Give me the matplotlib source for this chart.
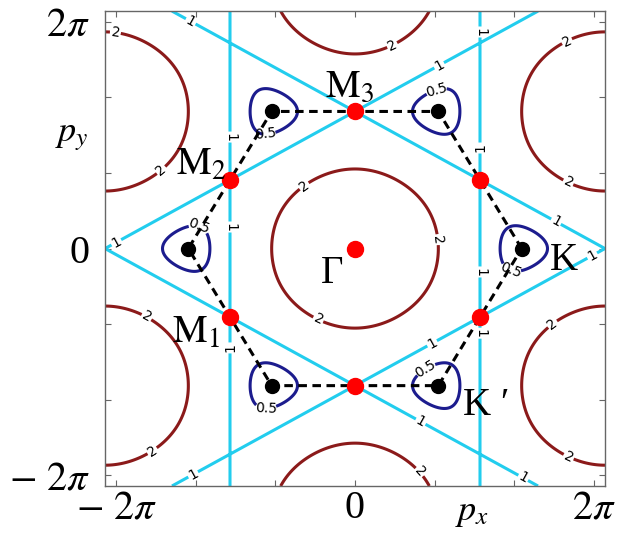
import numpy as np
import matplotlib
matplotlib.use("Agg")
import matplotlib.pyplot as plt

plt.rcParams["font.family"] = ["Liberation Serif", "DejaVu Serif"]
plt.rcParams["mathtext.fontset"] = "stix"

# contour levels of |f(p)| and their colours
levels = [0.5, 1.0, 2.0]
level_colors = ["#1c1c8e", "#22cdee", "#8b1a1a"]

# high-symmetry points, in units of pi
k_x = [4/3, 2/3, -2/3, -4/3, -2/3, 2/3]
k_y = [0.0, 1.1547, 1.1547, 0.0, -1.1547, -1.1547]
m_x = [1.0, 0.0, -1.0, -1.0, 0.0, 1.0]
m_y = [0.5774, 1.1547, 0.5774, -0.5774, -1.1547, -0.5774]
g_x = [0.0]
g_y = [0.0]

tick_vals = [-6, -4, -2, 0, 2, 4, 6]
tick_text = [r"$-\ 2\pi$", "", "", "0", "", "", r"$2\pi$"]

# where the contour labels sit (data coords, nearest contour is used)
label_spots = [
    # level 2
    (-6.03, 5.65), (-4.83, 2.02), (5.35, 5.44), (5.35, 1.73),
    (-5.08, -5.38), (-5.28, -1.89), (5.33, -5.60), (4.85, -1.84),
    (-1.26, 1.63), (1.94, 0.22), (-0.93, -1.89), (0.63, 6.05), (1.73, -5.81),
    # level 1
    (-3.17, 2.95), (-3.17, 0.57), (-3.14, -2.63), (3.14, 5.73), (3.14, 2.66),
    (3.09, -0.62), (3.09, -2.24), (2.14, 4.80), (-4.15, 5.97), (5.03, 0.67),
    (5.98, -0.22), (1.96, -2.55), (1.63, -4.62), (4.20, -6.12), (-4.02, -6.07),
    (-5.96, 0.09),
    # level 0.5
    (-2.26, 2.95), (2.06, 4.14), (3.90, -0.62), (-3.97, 0.41),
    (-2.24, -4.19), (1.76, -3.16),
]

# point labels: text, x, y (data), ha
point_labels = [
    (r"$\mathrm{M}_3$", -0.13, 4.01, "center"),
    (r"$\mathrm{M}_2$", -3.25, 1.94, "right"),
    (r"$\mathrm{M}_1$", -3.39, -2.50, "right"),
    ("Γ", -0.30, -0.91, "right"),
    ("K", 4.90, -0.57, "left"),
    ("K ′", 2.71, -4.40, "left"),
]

# graphene-like structure factor |1 + e^{ip.a1} + e^{ip.a2}|
a1 = np.array([0.5, np.sqrt(3) / 2])
a2 = np.array([-0.5, np.sqrt(3) / 2])
p = np.linspace(-2 * np.pi, 2 * np.pi, 700)
PX, PY = np.meshgrid(p, p)
F = np.abs(1 + np.exp(1j * (PX * a1[0] + PY * a1[1])) + np.exp(1j * (PX * a2[0] + PY * a2[1])))

fig = plt.figure(figsize=(6.25, 5.36), dpi=100)
ax = fig.add_axes([0.168, 0.0933, 0.8, 0.886])

ax.set_xlim(-2 * np.pi, 2 * np.pi)
ax.set_ylim(-2 * np.pi, 2 * np.pi)

cs = ax.contour(PX, PY, F, levels=levels, colors=level_colors, linewidths=2.2)
ax.clabel(cs, fmt={0.5: "0.5", 1.0: "1", 2.0: "2"}, fontsize=10, colors="k", inline=True,
          inline_spacing=2, manual=label_spots)
for t in cs.labelTexts:
    t.set_family("DejaVu Sans")

# dashed hexagon through K points
hx = np.array(k_x + [k_x[0]]) * np.pi
hy = np.array(k_y + [k_y[0]]) * np.pi
ax.plot(hx, hy, color="k", lw=2.2, ls=(0, (2.8, 1.8)), zorder=4)
ax.plot(np.array(k_x) * np.pi, np.array(k_y) * np.pi, "o", color="k", ms=10, zorder=5)
ax.plot(np.array(m_x) * np.pi, np.array(m_y) * np.pi, "o", color="red", ms=11.5, zorder=6)
ax.plot(np.array(g_x) * np.pi, np.array(g_y) * np.pi, "o", color="red", ms=11.5, zorder=6)

for txt, x, y, ha in point_labels:
    ax.text(x, y, txt, fontsize=28, ha=ha, va="baseline", zorder=7)

ax.set_xticks(tick_vals)
ax.set_xticklabels(tick_text)
ax.set_yticks(tick_vals)
ax.set_yticklabels(tick_text)
ax.tick_params(direction="in", length=4, width=0.8, color="#666666", top=True, right=True,
               labelsize=29)
ax.tick_params(axis="x", pad=3)
ax.tick_params(axis="y", pad=11)
for s in ax.spines.values():
    s.set_color("#666666")
    s.set_linewidth(1.0)

ax.text(0.734, -0.055, r"$p_x$", transform=ax.transAxes, fontsize=26, ha="center", va="center")
ax.text(-0.066, 0.735, r"$p_y$", transform=ax.transAxes, fontsize=26, ha="center", va="center")

fig.savefig("out.png", dpi=100)
